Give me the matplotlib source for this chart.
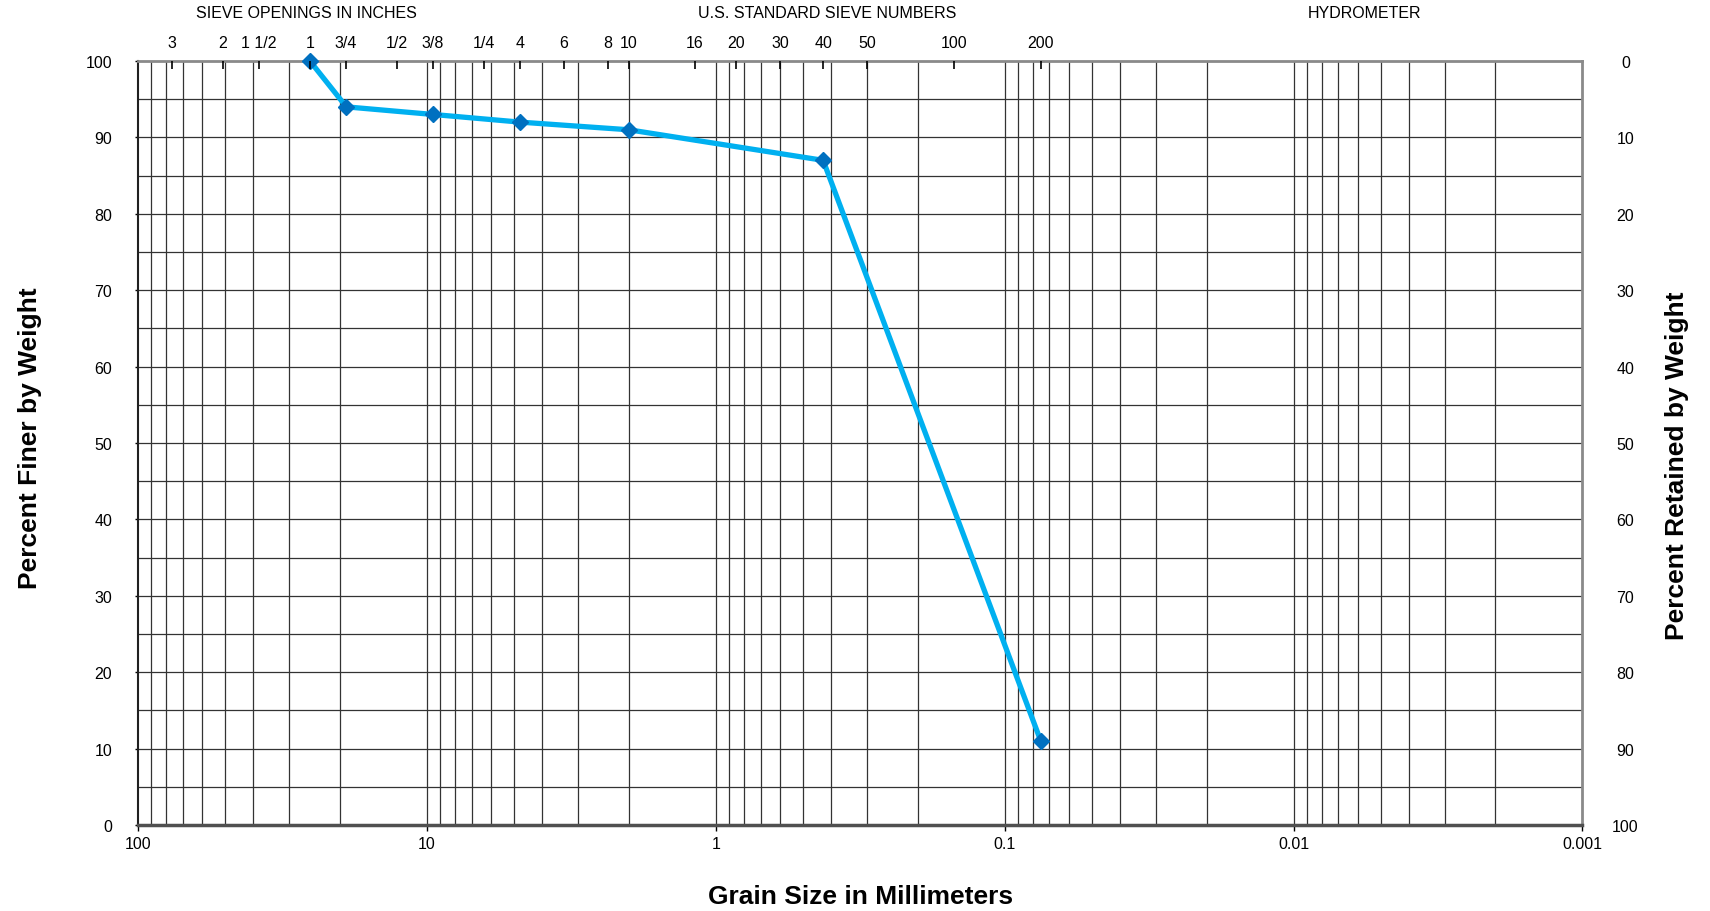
import numpy as np
import matplotlib
matplotlib.use("Agg")
import matplotlib.pyplot as plt
from matplotlib.ticker import FixedLocator, NullFormatter, NullLocator

plt.rcParams['font.family'] = ['Liberation Sans', 'DejaVu Sans']

# Data
grain_mm = [25.4, 19.0, 9.5, 4.75, 2.0, 0.425, 0.075]
pct_finer = [100, 94, 93, 92, 91, 87, 11]

sieve_sizes_mm = [76.2, 50.8, 38.1, 25.4, 19.05, 12.7, 9.525, 6.35, 4.75, 3.35,
                  2.36, 2.0, 1.18, 0.85, 0.6, 0.425, 0.3, 0.15, 0.075]
sieve_labels = ['3', '2', '1 1/2', '1', '3/4', '1/2', '3/8', '1/4', '4', '6',
                '8', '10', '16', '20', '30', '40', '50', '100', '200']

bottom_ticks = [100, 10, 1, 0.1, 0.01, 0.001]
bottom_labels = ['100', '10', '1', '0.1', '0.01', '0.001']
y_ticks = list(range(0, 101, 10))

headers = ['SIEVE OPENINGS IN INCHES', 'U.S. STANDARD SIEVE NUMBERS', 'HYDROMETER']

fig = plt.figure(figsize=(17.1, 9.12), dpi=100)
ax = fig.add_axes([0.0807, 0.0943, 0.9254 - 0.0807, 0.932 - 0.0943])

ax.set_xscale('log')
ax.set_xlim(100, 0.001)
ax.set_ylim(0, 100)

# grid lines
grid_pos = []
for d in [0.001, 0.01, 0.1, 1, 10]:
    for m in range(1, 10):
        grid_pos.append(d * m)
for gx in grid_pos:
    if 0.001 < gx < 100:
        ax.axvline(gx, color='#333333', lw=0.9, zorder=1)
for gy in range(5, 100, 5):
    ax.axhline(gy, color='#333333', lw=0.9, zorder=1)

ax.plot(grain_mm, pct_finer, color='#00B0F0', lw=3.8, zorder=3,
        marker='D', markersize=8.5, markerfacecolor='#0070C0',
        markeredgecolor='#0070C0', solid_joinstyle='miter', clip_on=False)

ax.xaxis.set_major_locator(FixedLocator(bottom_ticks))
ax.set_xticklabels(bottom_labels)
ax.xaxis.set_minor_locator(NullLocator())
ax.xaxis.set_minor_formatter(NullFormatter())
ax.set_yticks(y_ticks)
ax.tick_params(axis='x', direction='out', length=4, width=1, pad=4, labelsize=11.5)
ax.tick_params(axis='y', direction='out', length=2.5, width=1, pad=16, labelsize=11.5)

for s in ['top', 'right']:
    ax.spines[s].set_color('#8a8a8a')
    ax.spines[s].set_linewidth(2)
ax.spines['bottom'].set_color('#505050')
ax.spines['bottom'].set_linewidth(2.5)
ax.spines['left'].set_color('#202020')
ax.spines['left'].set_linewidth(1.5)

ax.set_xlabel('Grain Size in Millimeters', fontsize=19, fontweight='bold', labelpad=24)

# top sieve axis
axt = ax.twiny()
axt.set_xscale('log')
axt.set_xlim(100, 0.001)
axt.xaxis.set_major_locator(FixedLocator(sieve_sizes_mm))
axt.set_xticklabels(sieve_labels)
axt.xaxis.set_minor_locator(NullLocator())
axt.tick_params(axis='x', direction='in', length=6, width=1.2, pad=8, labelsize=11.5, colors='black')
for s in axt.spines.values():
    s.set_visible(False)

# right axis
axr = ax.twinx()
axr.set_ylim(100, 0)
axr.set_yticks(y_ticks)
axr.tick_params(axis='y', length=0, pad=31, labelsize=11.5)
for lbl in axr.get_yticklabels():
    lbl.set_horizontalalignment('center')
for s in axr.spines.values():
    s.set_visible(False)

fig.text(30.5 / 1710, 1 - 438 / 912, 'Percent Finer by Weight', rotation=90,
         ha='center', va='center', fontsize=19, fontweight='bold')
fig.text(1677 / 1710, 1 - 466 / 912, 'Percent Retained by Weight', rotation=90,
         ha='center', va='center', fontsize=19, fontweight='bold')

fig.text(306 / 1710, 1 - 14 / 912, headers[0], ha='center', va='center', fontsize=11.5)
fig.text(827 / 1710, 1 - 14 / 912, headers[1], ha='center', va='center', fontsize=11.5)
fig.text(1364 / 1710, 1 - 14 / 912, headers[2], ha='center', va='center', fontsize=11.5)

fig.savefig('out.png', dpi=100)
